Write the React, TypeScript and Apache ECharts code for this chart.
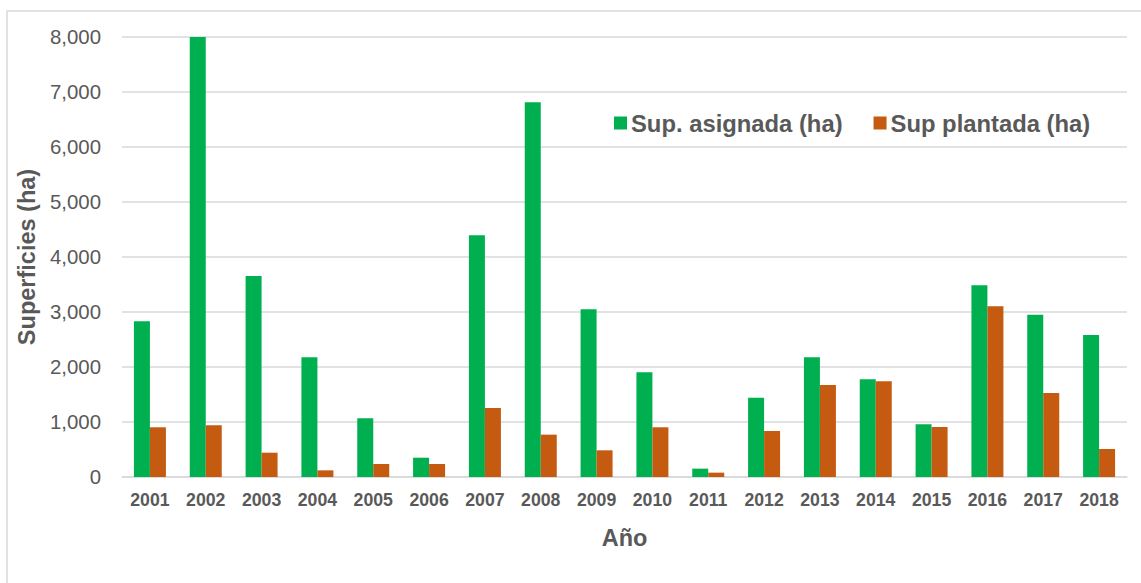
import React, { useEffect, useRef } from "react";
import * as echarts from "echarts";

const years = ["2001","2002","2003","2004","2005","2006","2007","2008","2009","2010","2011","2012","2013","2014","2015","2016","2017","2018"];
const supAsignada = [2830, 8010, 3655, 2176, 1067, 351, 4394, 6812, 3048, 1903, 152, 1442, 2176, 1776, 958, 3485, 2952, 2582];
const supPlantada = [904, 940, 442, 121, 236, 236, 1255, 770, 485, 904, 79, 836, 1673, 1739, 909, 3103, 1527, 509];
const yTicks = { min: 0, max: 8000, interval: 1000 };

const FONT = "'Liberation Sans', Arial, sans-serif";
const TXT = "#595959";

export default function App() {
  const ref = useRef<HTMLDivElement>(null);
  useEffect(() => {
    if (!ref.current) return;
    const chart = echarts.init(ref.current, null, { renderer: "svg" });
    chart.setOption({
      animation: false,
      backgroundColor: "#ffffff",
      textStyle: { fontFamily: FONT },
      graphic: [
        {
          type: "rect",
          shape: { x: 7, y: 11, width: 1200, height: 700 },
          style: { fill: "none", stroke: "#d9d9d9", lineWidth: 1.5 },
          silent: true,
        },
      ],
      legend: {
        left: 609,
        top: 106,
        itemWidth: 13,
        itemHeight: 13,
        itemGap: 31,
        icon: "rect",
        textStyle: { fontFamily: FONT, fontSize: 23.8, fontWeight: "bold", color: TXT, padding: [0, 0, 0, -1] },
        data: ["Sup. asignada (ha)", "Sup plantada (ha)"],
      },
      grid: { left: 122, right: 14, top: 37, bottom: 106 },
      xAxis: {
        type: "category",
        data: years,
        name: "Año",
        nameLocation: "middle",
        nameGap: 49,
        nameTextStyle: { fontFamily: FONT, fontSize: 23.5, fontWeight: "bold", color: TXT },
        axisLine: { show: true, lineStyle: { color: "#d9d9d9", width: 1.5 } },
        axisTick: { show: false },
        axisLabel: { fontFamily: FONT, fontSize: 17.7, fontWeight: "bold", color: TXT, margin: 14 },
      },
      yAxis: {
        type: "value",
        min: yTicks.min,
        max: yTicks.max,
        interval: yTicks.interval,
        name: "Superficies (ha)",
        nameLocation: "middle",
        nameGap: 82,
        nameTextStyle: { fontFamily: FONT, fontSize: 23.5, fontWeight: "bold", color: TXT },
        axisLine: { show: false },
        axisTick: { show: false },
        splitLine: { lineStyle: { color: "#d9d9d9", width: 1.5 } },
        axisLabel: {
          fontFamily: FONT,
          fontSize: 20.4,
          color: TXT,
          margin: 21,
          formatter: (v: number) => v.toLocaleString("en-US"),
        },
      },
      series: [
        {
          name: "Sup. asignada (ha)",
          type: "bar",
          data: supAsignada,
          barWidth: 16,
          barGap: "0%",
          itemStyle: { color: "#00B050" },
        },
        {
          name: "Sup plantada (ha)",
          type: "bar",
          data: supPlantada,
          barWidth: 16,
          barGap: "0%",
          itemStyle: { color: "#C55A11" },
        },
      ],
    });
    return () => chart.dispose();
  }, []);
  return (
    <div
      ref={ref}
      style={{ position: "fixed", left: 0, top: 0, width: 1141, height: 583 }}
    />
  );
}
